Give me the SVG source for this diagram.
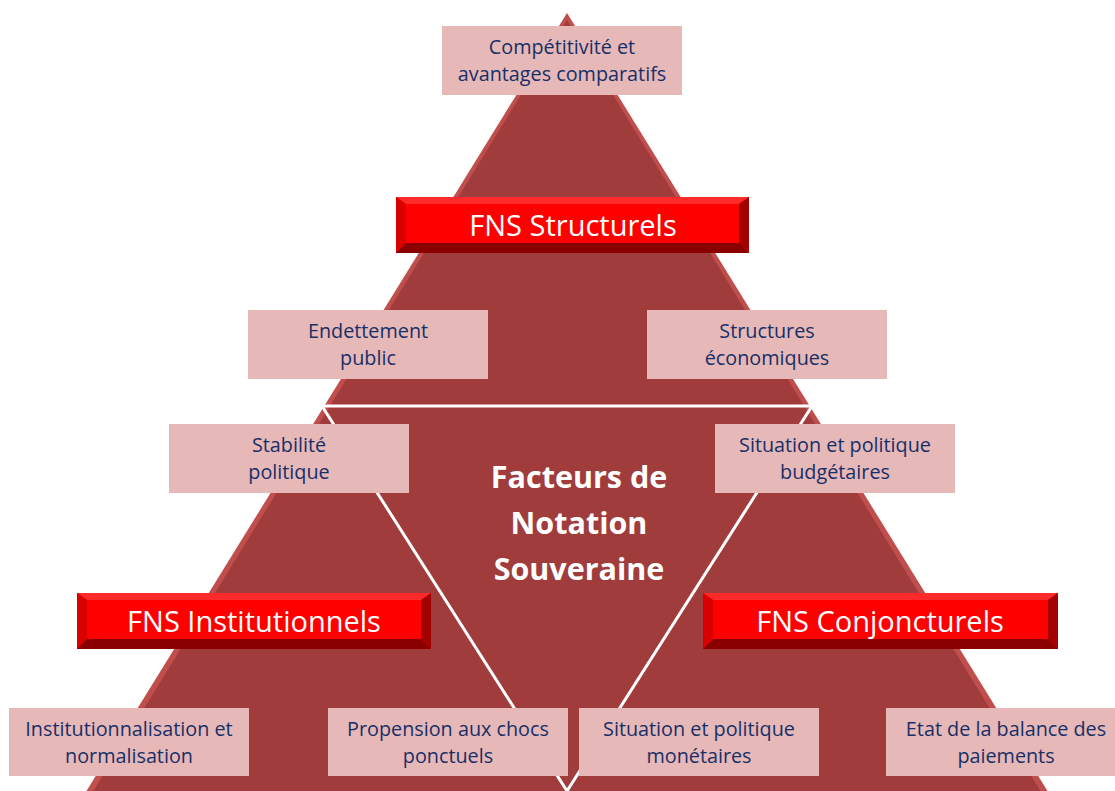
<svg xmlns="http://www.w3.org/2000/svg" width="1115" height="791" viewBox="0 0 1115 791">
<style>
.box{fill:#e6b8b7}
.t{font-family:"Open Sans","Noto Sans",sans-serif;font-size:19.8px;fill:#172f68;text-anchor:middle}
.bt{font-family:"Open Sans","Noto Sans",sans-serif;font-size:29px;fill:#ffffff;text-anchor:middle}
.ct{font-family:"Open Sans","Noto Sans",sans-serif;font-size:30.5px;font-weight:bold;fill:#ffffff;text-anchor:middle}
.face{fill:#ff0000}
.bvT{fill:#ff2a2a}
.bvL{fill:#d90000}
.bvB{fill:#8a0000}
.bvR{fill:#a30000}
</style>
<rect width="1115" height="791" fill="#ffffff"/>
<g id="pyramid">
<polygon points="567,13 84,795 1050,795" fill="#bf4e4c"/>
<polygon points="567,20 91,795 1043,795" fill="#a03c3c"/>
<polygon points="322,406 812,406 567,791" fill="none" stroke="#ffffff" stroke-width="3"/>
</g>
<g id="connectors"></g>
<g id="competitivite">
<rect class="box" x="442" y="26" width="240" height="69"/>
<text class="t" x="562" y="54">Compétitivité et</text>
<text class="t" x="562" y="81">avantages comparatifs</text>
</g>
<g id="fns-structurels">
<rect class="face" x="396" y="197" width="353" height="56"/>
<polygon class="bvT" points="396,197 749,197 739,204 406,204"/>
<polygon class="bvL" points="396,197 406,204 406,243 396,253"/>
<polygon class="bvB" points="396,253 406,243 739,243 749,253"/>
<polygon class="bvR" points="749,197 749,253 739,243 739,204"/>
<text class="bt" x="573" y="236">FNS Structurels</text>
</g>
<g id="endettement">
<rect class="box" x="248" y="310" width="240" height="69"/>
<text class="t" x="368" y="338">Endettement</text>
<text class="t" x="368" y="365">public</text>
</g>
<g id="structures">
<rect class="box" x="647" y="310" width="240" height="69"/>
<text class="t" x="767" y="338">Structures</text>
<text class="t" x="767" y="365">économiques</text>
</g>
<g id="stabilite">
<rect class="box" x="169" y="424" width="240" height="69"/>
<text class="t" x="289" y="452">Stabilité</text>
<text class="t" x="289" y="479">politique</text>
</g>
<g id="budgetaires">
<rect class="box" x="715" y="424" width="240" height="69"/>
<text class="t" x="835" y="452">Situation et politique</text>
<text class="t" x="835" y="479">budgétaires</text>
</g>
<g id="centre">
<text class="ct" x="579" y="488">Facteurs de</text>
<text class="ct" x="579" y="534">Notation</text>
<text class="ct" x="579" y="580">Souveraine</text>
</g>
<g id="fns-institutionnels">
<rect class="face" x="77" y="593" width="354" height="56"/>
<polygon class="bvT" points="77,593 431,593 421,600 87,600"/>
<polygon class="bvL" points="77,593 87,600 87,639 77,649"/>
<polygon class="bvB" points="77,649 87,639 421,639 431,649"/>
<polygon class="bvR" points="431,593 431,649 421,639 421,600"/>
<text class="bt" x="254" y="632">FNS Institutionnels</text>
</g>
<g id="fns-conjoncturels">
<rect class="face" x="703" y="593" width="355" height="56"/>
<polygon class="bvT" points="703,593 1058,593 1048,600 713,600"/>
<polygon class="bvL" points="703,593 713,600 713,639 703,649"/>
<polygon class="bvB" points="703,649 713,639 1048,639 1058,649"/>
<polygon class="bvR" points="1058,593 1058,649 1048,639 1048,600"/>
<text class="bt" x="880" y="632">FNS Conjoncturels</text>
</g>
<g id="institutionnalisation">
<rect class="box" x="9" y="708" width="240" height="68"/>
<text class="t" x="129" y="736">Institutionnalisation et</text>
<text class="t" x="129" y="763">normalisation</text>
</g>
<g id="propension">
<rect class="box" x="328" y="708" width="240" height="68"/>
<text class="t" x="448" y="736">Propension aux chocs</text>
<text class="t" x="448" y="763">ponctuels</text>
</g>
<g id="monetaires">
<rect class="box" x="579" y="708" width="240" height="68"/>
<text class="t" x="699" y="736">Situation et politique</text>
<text class="t" x="699" y="763">monétaires</text>
</g>
<g id="balance">
<rect class="box" x="886" y="708" width="240" height="68"/>
<text class="t" x="1006" y="736">Etat de la balance des</text>
<text class="t" x="1006" y="763">paiements</text>
</g>
</svg>
